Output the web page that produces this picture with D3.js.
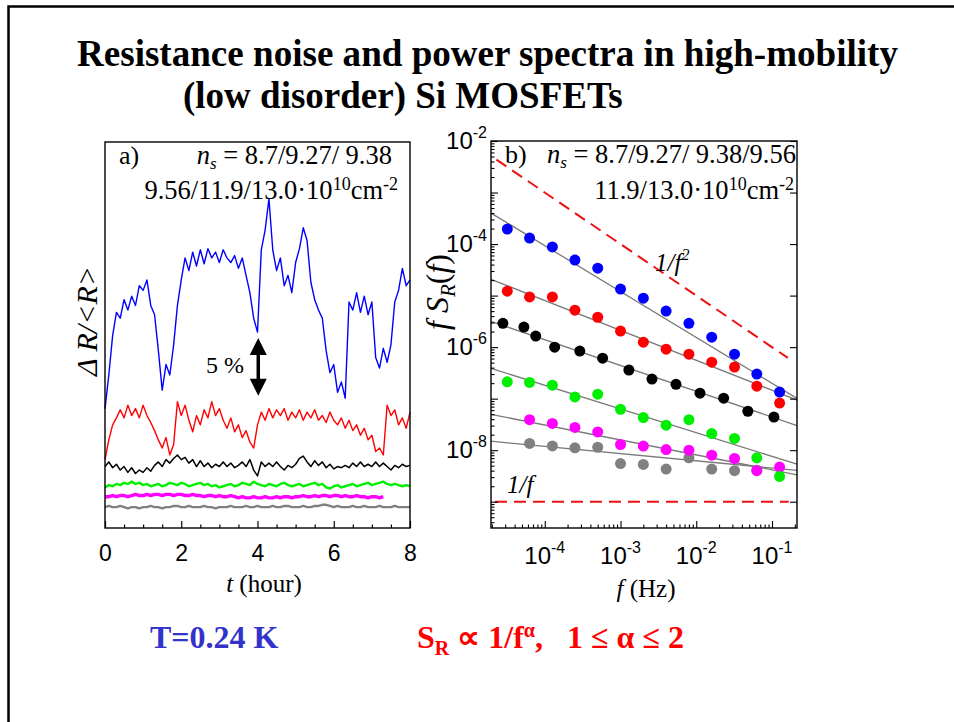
<!DOCTYPE html>
<html>
<head>
<meta charset="utf-8">
<script src="https://cdn.jsdelivr.net/npm/d3@7"></script>
<style>
  body { margin: 0; background: #fff; }
  svg text { white-space: pre; }
</style>
</head>
<body>
<svg id="chart" width="954" height="722"></svg>
<script>
// ---------- DATA: a) resistance vs time (% , traces offset vertically) ----------
const traceStep = 0.1; // hours between samples
const traceBlue = [
  10.3, 13.2, 16.6, 18.6, 18.1, 19.7, 18.8, 20.0, 19.2, 20.9,
  20.5, 21.4, 19.2, 18.4, 15.3, 11.9, 14.1, 13.2, 15.8, 19.2,
  21.4, 23.3, 22.2, 23.8, 22.6, 24.0, 22.8, 24.1, 23.3, 23.8,
  22.9, 24.0, 23.3, 22.9, 23.5, 22.4, 23.3, 21.8, 20.3, 18.1,
  16.9, 24.0, 25.7, 28.4, 24.0, 22.2, 23.3, 20.9, 21.8, 20.3,
  22.9, 24.1, 25.9, 24.8, 21.2, 19.7, 18.8, 18.1, 15.3, 13.4,
  14.1, 11.7, 12.6, 11.2, 19.5, 18.8, 20.3, 18.6, 20.0, 18.4,
  19.5, 14.7, 13.8, 15.5, 14.3, 15.8, 19.5, 20.5, 22.4, 20.9,
  21.4
];
const traceRed = [
  5.9, 7.6, 8.9, 9.5, 10.2, 9.5, 10.6, 9.7, 10.3, 9.5,
  10.6, 9.7, 9.1, 8.4, 7.6, 6.9, 7.8, 6.3, 7.2, 10.9,
  9.7, 10.6, 9.3, 8.3, 9.7, 8.9, 10.2, 9.5, 10.9, 9.7,
  10.3, 9.3, 8.6, 9.5, 8.3, 8.9, 7.8, 8.4, 7.4, 6.9,
  8.9, 10.0, 9.3, 10.3, 9.5, 10.2, 9.7, 10.3, 9.3, 10.0,
  9.5, 10.2, 9.3, 10.0, 9.5, 10.2, 9.3, 9.7, 9.1, 10.0,
  9.3, 8.9, 9.5, 8.6, 9.3, 8.4, 8.9, 8.0, 8.6, 7.6,
  8.0, 6.6, 6.9, 6.3, 10.6, 9.7, 10.2, 8.9, 9.5, 8.6,
  10.0
];
const traceBlack = [
  5.3, 5.7, 5.2, 5.5, 5.0, 5.3, 4.8, 5.2, 4.7, 5.0,
  4.8, 5.2, 4.9, 5.4, 5.7, 5.3, 5.9, 5.6, 6.0, 6.3,
  5.9, 6.1, 5.6, 5.9, 5.3, 5.8, 5.3, 5.6, 5.2, 5.5,
  5.3, 5.7, 5.3, 5.6, 5.2, 5.4, 5.7, 5.3, 5.9, 5.0,
  4.5, 5.7, 5.3, 5.6, 5.3, 5.7, 5.3, 5.0, 5.4, 5.2,
  5.5, 6.0, 6.2, 5.7, 5.3, 5.8, 5.4, 5.7, 5.2, 5.5,
  5.1, 5.3, 5.2, 5.4, 5.2, 5.6, 5.3, 5.7, 5.3, 5.5,
  5.3, 5.7, 5.3, 5.6, 5.3, 5.0, 5.4, 5.2, 5.5, 5.3,
  5.4
];
const traceGreen = [
  3.5, 3.7, 3.6, 3.8, 3.7, 3.9, 3.8, 4.0, 3.8, 3.9,
  3.7, 3.8, 3.6, 3.7, 3.8, 3.6, 3.7, 3.9, 3.8, 3.7,
  3.9, 3.8, 3.6, 3.7, 3.8, 3.9, 3.7, 3.8, 3.6, 3.7,
  3.5, 3.6, 3.7, 3.8, 3.6, 3.7, 3.9, 3.8, 3.7, 4.0,
  3.8, 3.7, 3.6, 3.8, 3.7, 3.6, 3.8, 3.9, 3.7, 3.6,
  3.7, 3.8, 3.6, 3.7, 3.8, 3.9, 3.7, 3.8, 3.5, 3.4,
  3.6, 3.7, 3.5, 3.6, 3.7, 3.8, 3.6, 3.7, 3.8, 3.9,
  3.7, 3.8, 3.9, 4.0, 3.8, 3.7, 3.8, 3.7, 3.6, 3.7,
  3.6
];
const traceMagenta = [
  2.7, 2.7, 2.8, 2.7, 2.8, 2.8, 2.7, 2.8, 2.9, 2.8,
  2.8, 2.9, 2.8, 2.9, 2.9, 2.8, 2.9, 2.9, 2.8, 2.9,
  2.9, 2.8, 2.8, 2.9, 2.8, 2.8, 2.7, 2.8, 2.8, 2.7,
  2.8, 2.7, 2.7, 2.8, 2.7, 2.6, 2.7, 2.6, 2.6, 2.7,
  2.6, 2.6, 2.7, 2.6, 2.6, 2.7, 2.6, 2.7, 2.7, 2.6,
  2.7, 2.7, 2.8, 2.7, 2.7, 2.8, 2.7, 2.8, 2.8, 2.7,
  2.8, 2.8, 2.7, 2.8, 2.7, 2.7, 2.8, 2.7, 2.7, 2.6,
  2.7, 2.7, 2.6, 2.7
];
const traceGray = [
  1.8, 1.9, 1.8, 1.8, 1.9, 1.8, 1.7, 1.8, 1.8, 1.7,
  1.8, 1.8, 1.9, 1.8, 1.8, 1.7, 1.8, 1.8, 1.9, 1.9,
  1.8, 1.8, 1.9, 1.8, 1.8, 1.8, 1.9, 1.8, 1.8, 1.7,
  1.8, 1.8, 1.8, 1.9, 1.8, 1.8, 1.8, 1.9, 1.8, 1.8,
  1.9, 1.8, 1.8, 1.8, 1.9, 1.8, 1.8, 1.9, 1.9, 1.8,
  1.8, 1.8, 1.9, 1.8, 1.8, 1.9, 1.9, 2.0, 2.0, 1.9,
  1.8, 1.9, 1.8, 1.8, 1.8, 1.9, 1.8, 1.8, 1.9, 1.8,
  1.8, 1.8, 1.9, 1.8, 1.8, 1.8, 1.9, 1.8, 1.8, 1.8,
  1.8
];
const tTicks = [0, 2, 4, 6, 8];
const tMinorTicks = [0.5, 1, 1.5, 2.5, 3, 3.5, 4.5, 5, 5.5, 6.5, 7, 7.5];
const scaleBarAt = 4.02;            // hour
const scaleBarRange = [11.4, 16.4]; // 5 %

// ---------- DATA: b) power spectra f*S_R(f) ----------
const freqs = [3.2e-5, 6.3e-5, 1.26e-4, 2.5e-4, 5e-4, 1e-3, 2e-3, 4e-3, 8e-3, 1.6e-2, 3.2e-2, 6.3e-2, 0.126];
const freqsBlack = [2.8e-5, 5.3e-5, 7.6e-5, 1.35e-4, 2.9e-4, 5.8e-4, 1.29e-3, 2.6e-3, 5.4e-3, 1.12e-2, 2.3e-2, 4.8e-2, 0.106];
const specBlue = [1.95e-4, 1.31e-4, 8.8e-5, 4.9e-5, 3.4e-5, 1.34e-5, 8.9e-6, 5.0e-6, 2.9e-6, 1.56e-6, 7.3e-7, 3.0e-7, 1.34e-7];
const specRed = [1.22e-5, 9.4e-6, 9.4e-6, 5.2e-6, 3.8e-6, 2.05e-6, 1.25e-6, 9.1e-7, 7.3e-7, 5.1e-7, 4.1e-7, 1.75e-7, 8.2e-8];
const specBlack = [2.9e-6, 2.45e-6, 1.64e-6, 1.0e-6, 8.4e-7, 6.1e-7, 3.6e-7, 2.4e-7, 1.9e-7, 1.28e-7, 1.02e-7, 5.7e-8, 4.4e-8];
const specGreen = [2.12e-7, 2.06e-7, 1.83e-7, 1.08e-7, 1.22e-7, 6.2e-8, 4.3e-8, 3.05e-8, 3.9e-8, 2.1e-8, 1.69e-8, 7.1e-9, 3.1e-9];
const specMagenta = [null, 3.9e-8, 3.3e-8, 2.76e-8, 2.26e-8, 1.29e-8, 1.2e-8, 1.03e-8, 1.0e-8, 8.0e-9, 6.9e-9, 4.0e-9, 4.7e-9];
const specGray = [null, 1.35e-8, 1.21e-8, 1.11e-8, 1.14e-8, 5.5e-9, 5.3e-9, 4.3e-9, 7.1e-9, 4.3e-9, 4.0e-9, 4.1e-9];
// power-law fits: f*S at f = 1e-3 Hz and exponent alpha (S ~ 1/f^alpha)
const fitNames = ["blue", "red", "black", "green", "magenta", "gray"];
const fitAmp = [1.2e-5, 2.11e-6, 4.4e-7, 6.3e-8, 1.58e-8, 8.6e-9];
const fitAlpha = [1.89, 1.58, 1.50, 1.46, 1.29, 1.14];
// reference slopes (dashed red)
const refF2 = { c: 1e-7, from: 2.3e-5, to: 0.162 };   // f*S = c/f  -> 1/f^2
const refF1 = { c: 1e-9, from: 2.2e-5, to: 0.166 };   // f*S = c    -> 1/f
const xMajor = [1e-4, 1e-3, 1e-2, 1e-1];
const yMajor = [1e-9, 1e-8, 1e-7, 1e-6, 1e-5, 1e-4, 1e-3, 1e-2];
const yLabelled = [1e-2, 1e-4, 1e-6, 1e-8];

const colors = { blue: "#0000ff", red: "#ff0000", black: "#000000", green: "#00ee00", magenta: "#ff00ff", gray: "#808080" };

// ---------- helpers ----------
const serif = '"Liberation Serif", "Times New Roman", serif';
const sans = '"Liberation Sans", Arial, Helvetica, sans-serif';

function rich(parent, x, y, parts, opts = {}) {
    const t = parent.append("text")
        .attr("x", x).attr("y", y)
        .attr("font-size", opts.size || 24)
        .attr("font-family", opts.family || serif)
        .attr("text-anchor", opts.anchor || "start")
        .attr("fill", opts.fill || "#000");
    if (opts.weight) t.attr("font-weight", opts.weight);
    if (opts.rotate) t.attr("transform", `rotate(${opts.rotate},${x},${y})`);
    let shift = 0;
    parts.forEach((p) => {
        const s = t.append("tspan").text(p.t);
        const target = p.dy || 0;
        if (target !== shift) { s.attr("dy", target - shift); shift = target; }
        if (p.size) s.attr("font-size", p.size);
        if (p.i) s.attr("font-style", "italic");
    });
    return t;
}

const svg = d3.select("#chart").attr("font-family", serif);

// slide frame
svg.append("path")
    .attr("d", "M8.5,722 V6.5 H954")
    .attr("fill", "none").attr("stroke", "#000").attr("stroke-width", 2.5);

// title
svg.append("text").attr("x", 77).attr("y", 66)
    .attr("font-size", 37).attr("font-weight", "bold")
    .attr("textLength", 821).attr("lengthAdjust", "spacingAndGlyphs")
    .text("Resistance noise and power spectra in high-mobility");
svg.append("text").attr("x", 183).attr("y", 108)
    .attr("font-size", 37).attr("font-weight", "bold")
    .text("(low disorder) Si MOSFETs");

// ---------- PANEL a ----------
const xT = d3.scaleLinear().domain([0, 8]).range([105, 410]);
const yT = d3.scaleLinear().domain([0, 33.3]).range([528, 142]);
const gA = svg.append("g");

const traces = [
    { v: traceGray, c: colors.gray, w: 2.4 },
    { v: traceMagenta, c: colors.magenta, w: 3.4 },
    { v: traceGreen, c: colors.green, w: 2.4 },
    { v: traceBlack, c: colors.black, w: 1.5 },
    { v: traceRed, c: colors.red, w: 1.4 },
    { v: traceBlue, c: colors.blue, w: 1.4 }
];
const lineT = d3.line().x((d, i) => xT(i * traceStep)).y((d) => yT(d));
traces.forEach((tr) => {
    gA.append("path").datum(tr.v)
        .attr("d", lineT)
        .attr("fill", "none").attr("stroke", tr.c)
        .attr("stroke-width", tr.w).attr("stroke-linejoin", "round");
});

gA.append("rect").attr("x", 105).attr("y", 142).attr("width", 305).attr("height", 386)
    .attr("fill", "none").attr("stroke", "#000").attr("stroke-width", 1.4);

const axA = gA.append("g").attr("transform", "translate(0,528)")
    .call(d3.axisBottom(xT).tickValues(tTicks).tickSizeInner(-7).tickSizeOuter(0).tickPadding(17).tickFormat(d3.format("d")));
gA.append("g").attr("transform", "translate(0,528)")
    .call(d3.axisBottom(xT).tickValues(tMinorTicks).tickSizeInner(-3.5).tickSizeOuter(0).tickFormat(""))
    .select(".domain").remove();
axA.select(".domain").remove();
gA.selectAll(".tick line").attr("stroke", "#000").attr("stroke-width", 1.2);
axA.selectAll("text").attr("font-family", sans).attr("font-size", 23).attr("fill", "#000");

rich(gA, 264, 592, [{ t: "t", i: true }, { t: " (hour)" }], { size: 25, anchor: "middle" });
rich(gA, 97, 321, [{ t: "\u0394 R/<R>", i: true }], { size: 30, anchor: "middle", rotate: -90 });

rich(gA, 119, 164, [{ t: "a)" }], { size: 26 });
rich(gA, 392, 164, [{ t: "n", i: true }, { t: "s", i: true, size: 17, dy: 5 }, { t: " = 8.7/9.27/ 9.38", dy: 0 }], { size: 26.5, anchor: "end" });
rich(gA, 398, 199, [{ t: "9.56/11.9/13.0\u00b710" }, { t: "10", size: 18, dy: -9 }, { t: "cm", dy: 0 }, { t: "-2", size: 18, dy: -9 }], { size: 26.5, anchor: "end" });

// 5 % scale bar
const barX = xT(scaleBarAt), barTop = yT(scaleBarRange[1]), barBot = yT(scaleBarRange[0]);
gA.append("line").attr("x1", barX).attr("x2", barX).attr("y1", barTop + 10).attr("y2", barBot - 10)
    .attr("stroke", "#000").attr("stroke-width", 3.5);
gA.append("path").attr("d", `M${barX},${barTop} L${barX - 8.5},${barTop + 17} L${barX + 8.5},${barTop + 17} Z`);
gA.append("path").attr("d", `M${barX},${barBot} L${barX - 8.5},${barBot - 17} L${barX + 8.5},${barBot - 17} Z`);
rich(gA, 206, 373, [{ t: "5 %" }], { size: 24 });

// ---------- PANEL b ----------
const xF = d3.scaleLog().domain([Math.pow(10, -4.71), Math.pow(10, -0.67)]).range([491, 797]);
const yF = d3.scaleLog().domain([Math.pow(10, -9.51), 1e-2]).range([528, 141]);
const gB = svg.append("g");

// fit lines
const fLo = xF.domain()[0], fHi = xF.domain()[1];
fitNames.forEach((name, k) => {
    const fs = (f) => fitAmp[k] * Math.pow(f / 1e-3, 1 - fitAlpha[k]);
    gB.append("line")
        .attr("x1", xF(fLo)).attr("y1", yF(fs(fLo)))
        .attr("x2", xF(fHi)).attr("y2", yF(fs(fHi)))
        .attr("stroke", "#7a7a7a").attr("stroke-width", 1.3);
});

// dashed references
[refF2, refF1].forEach((r, k) => {
    const fs = (f) => (k === 0 ? r.c / f : r.c);
    gB.append("line")
        .attr("x1", xF(r.from)).attr("y1", yF(fs(r.from)))
        .attr("x2", xF(r.to)).attr("y2", yF(fs(r.to)))
        .attr("stroke", "#ee1111").attr("stroke-width", 2)
        .attr("stroke-dasharray", "12,7");
});

// points
const series = [
    { f: freqs, v: specGray, c: colors.gray },
    { f: freqs, v: specMagenta, c: colors.magenta },
    { f: freqs, v: specGreen, c: colors.green },
    { f: freqsBlack, v: specBlack, c: colors.black },
    { f: freqs, v: specRed, c: colors.red },
    { f: freqs, v: specBlue, c: colors.blue }
];
series.forEach((s) => {
    const pts = s.v.map((v, i) => ({ f: s.f[i], v })).filter((d) => d.v != null);
    gB.selectAll(null).data(pts).enter().append("circle")
        .attr("cx", (d) => xF(d.f)).attr("cy", (d) => yF(d.v))
        .attr("r", 5.5).attr("fill", s.c);
});

gB.append("rect").attr("x", 491).attr("y", 141).attr("width", 306).attr("height", 387)
    .attr("fill", "none").attr("stroke", "#000").attr("stroke-width", 1.4);

const xMinor = xF.ticks().filter((v) => !xMajor.some((m) => Math.abs(m - v) / m < 1e-6));
const yMinor = yF.ticks().filter((v) => !yMajor.some((m) => Math.abs(m - v) / m < 1e-6));
function tickAxis(axis, tx, ty) {
    const g = gB.append("g").attr("transform", `translate(${tx},${ty})`).call(axis);
    g.select(".domain").remove();
    g.selectAll(".tick line").attr("stroke", "#000").attr("stroke-width", 1.1);
    return g;
}
tickAxis(d3.axisBottom(xF).tickValues(xMajor).tickSizeInner(-7).tickSizeOuter(0).tickFormat(""), 0, 528);
tickAxis(d3.axisBottom(xF).tickValues(xMinor).tickSizeInner(-3.5).tickSizeOuter(0).tickFormat(""), 0, 528);
tickAxis(d3.axisLeft(yF).tickValues(yMajor).tickSizeInner(-7).tickSizeOuter(0).tickFormat(""), 491, 0);
tickAxis(d3.axisLeft(yF).tickValues(yMinor).tickSizeInner(-3.5).tickSizeOuter(0).tickFormat(""), 491, 0);
tickAxis(d3.axisRight(yF).tickValues(yMajor).tickSizeInner(-7).tickSizeOuter(0).tickFormat(""), 797, 0);

// y label (drawn before tick labels, sits behind them)
rich(gB, 448, 292, [{ t: "f", i: true }, { t: " " }, { t: "S", i: true }, { t: "R", i: true, size: 21, dy: 7 }, { t: "(", dy: 0 }, { t: "f", i: true }, { t: ")" }], { size: 32, anchor: "middle", rotate: -90 });

xMajor.forEach((v) => {
    rich(gB, xF(v), 564, [{ t: "10" }, { t: String(Math.round(Math.log10(v))), size: 16, dy: -11 }], { size: 24, family: sans, anchor: "middle" });
});
yLabelled.forEach((v) => {
    rich(gB, 487, yF(v) + 8, [{ t: "10" }, { t: String(Math.round(Math.log10(v))), size: 16, dy: -11 }], { size: 24, family: sans, anchor: "end" });
});
rich(gB, 646, 597, [{ t: "f", i: true }, { t: " (Hz)" }], { size: 25, anchor: "middle" });

rich(gB, 505, 163, [{ t: "b)" }], { size: 26 });
rich(gB, 796, 163, [{ t: "n", i: true }, { t: "s", i: true, size: 17, dy: 5 }, { t: " = 8.7/9.27/ 9.38/9.56", dy: 0 }], { size: 26.5, anchor: "end" });
rich(gB, 794, 199, [{ t: "11.9/13.0\u00b710" }, { t: "10", size: 18, dy: -9 }, { t: "cm", dy: 0 }, { t: "-2", size: 18, dy: -9 }], { size: 26.5, anchor: "end" });
rich(gB, 655, 271, [{ t: "1/f", i: true }, { t: "2", i: true, size: 16, dy: -11 }], { size: 25 });
rich(gB, 507, 493, [{ t: "1/f", i: true }], { size: 25 });

// ---------- bottom notes ----------
rich(svg, 150, 648, [{ t: "T=0.24 K" }], { size: 32, weight: "bold", fill: "#3333cc" });
rich(svg, 417, 648, [
    { t: "S" }, { t: "R", size: 20, dy: 7 }, { t: " \u221d 1/f", dy: 0 }, { t: "\u03b1", size: 20, dy: -11 },
    { t: ",   1 \u2264 \u03b1 \u2264 2", dy: 0 }
], { size: 32, weight: "bold", fill: "#ff0000" });
</script>
</body>
</html>
